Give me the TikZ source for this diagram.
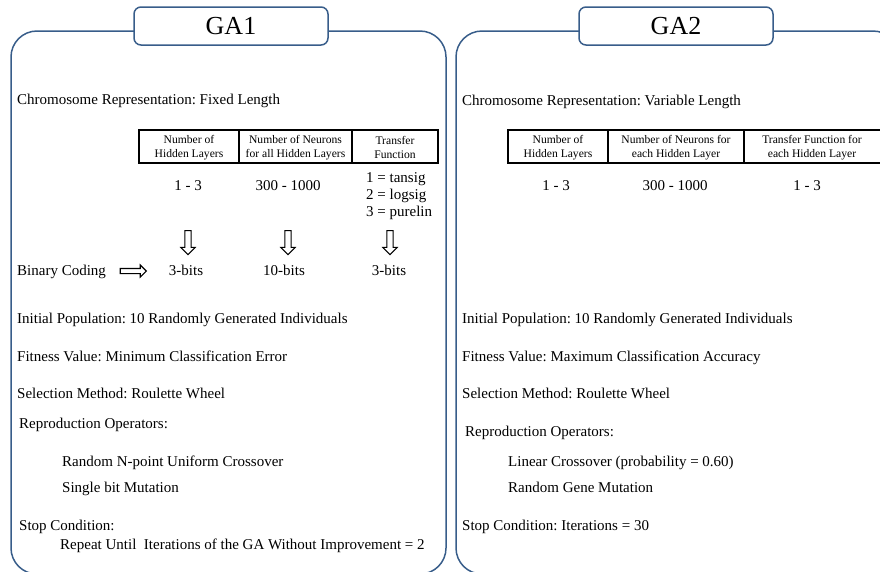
\documentclass[tikz,border=0pt]{standalone}
\usepackage{fontspec}
\setmainfont{Liberation Serif}
\usetikzlibrary{shapes.arrows}
\definecolor{frameblue}{RGB}{56,93,138}
\frenchspacing

\begin{document}
\begin{tikzpicture}[x=1pt,y=-1pt,
  panel/.style={draw=frameblue,line width=1.5pt,rounded corners=26pt},
  titlebox/.style={draw=frameblue,line width=1.5pt,fill=white,rounded corners=7pt,
    minimum width=194pt,minimum height=38pt,inner sep=0pt,font=\fontsize{26}{30}\selectfont},
  txt/.style={anchor=base west,inner sep=0pt,font=\fontsize{15}{17}\selectfont},
  val/.style={anchor=base,inner sep=0pt,font=\fontsize{15}{17}\selectfont},
  head/.style={align=center,inner sep=0pt,font=\fontsize{11.6}{14}\selectfont},
  tablebox/.style={draw,line width=1.3pt},
  downarrow/.style={single arrow,draw,line width=1.1pt,fill=white,rotate=-90,
    inner xsep=0pt,inner ysep=2.6pt,minimum height=24pt,single arrow head extend=4pt},
  rightarrow/.style={single arrow,draw,line width=1.1pt,fill=white,
    inner xsep=0pt,inner ysep=2pt,minimum height=26pt,single arrow head extend=3.5pt}]
\useasboundingbox (0,0) rectangle (880,571);
\clip (0,0) rectangle (880,571);

% panels
\draw [panel] (11,31) rectangle (446,574);
\draw [panel] (456,31) rectangle (899,574);
\node [titlebox] (ga1) at (231,26) {GA1};
\node [titlebox] (ga2) at (676,26) {GA2};

% left panel
\node [txt] (chrom1) at (17,104) {Chromosome Representation: Fixed Length};
\draw [tablebox] (139,130) rectangle (438,163);
\draw [tablebox] (239,130) -- (239,163);
\draw [tablebox] (352,130) -- (352,163);
\node [head] (h11) at (189,147.5) {Number of\\Hidden Layers};
\node [head] (h12) at (295.5,147.5) {Number of Neurons\\for all Hidden Layers};
\node [head] (h13) at (395,147.5) {Transfer\\Function};
\node [val] (v11) at (188,190) {1 - 3};
\node [val] (v12) at (288,190) {300 - 1000};
\node [txt] (v13a) at (366,182) {1 = tansig};
\node [txt] (v13b) at (366,199) {2 = logsig};
\node [txt] (v13c) at (366,216) {3 = purelin};
\node [downarrow] (d11) at (188,241) {};
\node [downarrow] (d12) at (288,241) {};
\node [downarrow] (d13) at (390,241) {};
\node [txt] (bin) at (17,275) {Binary Coding};
\node [rightarrow] (r1) at (132,271) {};
\node [val] (b11) at (186,275) {3-bits};
\node [val] (b12) at (284,275) {10-bits};
\node [val] (b13) at (389,275) {3-bits};
\node [txt] (init1) at (17,323) {Initial Population: 10 Randomly Generated Individuals};
\node [txt] (fit1) at (17,361) {Fitness Value: Minimum Classification Error};
\node [txt] (sel1) at (17,398) {Selection Method: Roulette Wheel};
\node [txt] (rep1) at (19,428) {Reproduction Operators:};
\node [txt] (cross1) at (62,466) {Random N-point Uniform Crossover};
\node [txt] (mut1) at (62,492) {Single bit Mutation};
\node [txt] (stop1) at (19,530) {Stop Condition:};
\node [txt] (until1) at (60,549) {Repeat Until~ Iterations of the GA Without Improvement = 2};

% right panel
\node [txt] (chrom2) at (462,105) {Chromosome Representation: Variable Length};
\draw [tablebox] (508,130) rectangle (882,163);
\draw [tablebox] (608,130) -- (608,163);
\draw [tablebox] (744,130) -- (744,163);
\node [head] (h21) at (558,147.5) {Number of\\Hidden Layers};
\node [head] (h22) at (676,147.5) {Number of Neurons for\\each Hidden Layer};
\node [head] (h23) at (812,147.5) {Transfer Function for\\each Hidden Layer};
\node [val] (v21) at (556,190) {1 - 3};
\node [val] (v22) at (675,190) {300 - 1000};
\node [val] (v23) at (807,190) {1 - 3};
\node [txt] (init2) at (462,323) {Initial Population: 10 Randomly Generated Individuals};
\node [txt] (fit2) at (462,361) {Fitness Value: Maximum Classification Accuracy};
\node [txt] (sel2) at (462,398) {Selection Method: Roulette Wheel};
\node [txt] (rep2) at (465,436) {Reproduction Operators:};
\node [txt] (cross2) at (508,466) {Linear Crossover (probability = 0.60)};
\node [txt] (mut2) at (508,492) {Random Gene Mutation};
\node [txt] (stop2) at (462,530) {Stop Condition: Iterations = 30};

\end{tikzpicture}
\end{document}
